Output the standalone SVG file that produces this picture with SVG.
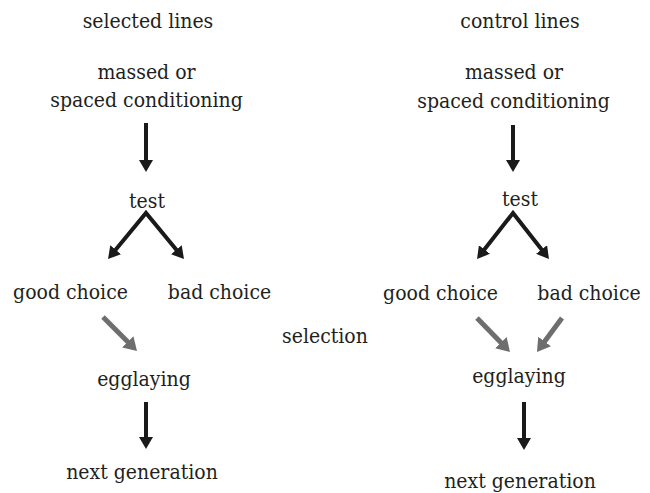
<svg xmlns="http://www.w3.org/2000/svg" width="650" height="493" viewBox="0 0 650 493">
<style>
text{font-family:"DejaVu Serif Condensed","DejaVu Serif","Liberation Serif",serif;font-stretch:condensed;font-size:21px;fill:#231f20;text-anchor:middle}
.blk{stroke:#1a1a1a;stroke-width:4;fill:none;stroke-linejoin:miter}
.gry{stroke:#6e6e6e;stroke-width:5;fill:none}
</style>
<defs>
<marker id="hb" markerUnits="userSpaceOnUse" markerWidth="12" markerHeight="14" refX="2" refY="7" orient="auto-start-reverse"><path d="M0,0 L12,7 L0,14 z" fill="#1a1a1a"/></marker>
<marker id="hg" markerUnits="userSpaceOnUse" markerWidth="13" markerHeight="16" refX="2" refY="8" orient="auto"><path d="M0,0 L13,8 L0,16 z" fill="#6e6e6e"/></marker>
</defs>
<g id="labels-left">
<g id="selected-lines"><text x="148" y="28">selected lines</text></g>
<g id="cond-left"><text x="146.5" y="79">massed or</text><text x="146.5" y="107">spaced conditioning</text></g>
<g id="test-left"><text x="147" y="208">test</text></g>
<g id="good-left"><text x="70.5" y="299">good choice</text></g>
<g id="bad-left"><text x="219.5" y="299">bad choice</text></g>
<g id="egg-left"><text x="144" y="386">egglaying</text></g>
<g id="next-left"><text x="142" y="479">next generation</text></g>
</g>
<g id="selection"><text x="325" y="343">selection</text></g>
<g id="labels-right">
<g id="control-lines"><text x="520" y="28">control lines</text></g>
<g id="cond-right"><text x="514" y="79">massed or</text><text x="513.5" y="108">spaced conditioning</text></g>
<g id="test-right"><text x="520" y="206">test</text></g>
<g id="good-right"><text x="440.5" y="300">good choice</text></g>
<g id="bad-right"><text x="589" y="300">bad choice</text></g>
<g id="egg-right"><text x="519" y="383">egglaying</text></g>
<g id="next-right"><text x="520" y="488">next generation</text></g>
</g>
<g id="connectors">
<line class="blk" x1="146" y1="123" x2="146" y2="162" marker-end="url(#hb)"/>
<line class="blk" x1="513" y1="125" x2="513" y2="162" marker-end="url(#hb)"/>
<path class="blk" d="M114.4,251.3 L146,213 L177.6,251.3" marker-start="url(#hb)" marker-end="url(#hb)"/>
<path class="blk" d="M483.2,251.1 L513,213 L542.8,251.1" marker-start="url(#hb)" marker-end="url(#hb)"/>
<line class="gry" x1="103" y1="317" x2="129.2" y2="343.2" marker-end="url(#hg)"/>
<line class="gry" x1="477" y1="318" x2="502.3" y2="344.1" marker-end="url(#hg)"/>
<line class="gry" x1="562" y1="318" x2="543.5" y2="343.1" marker-end="url(#hg)"/>
<line class="blk" x1="146" y1="402" x2="146" y2="439" marker-end="url(#hb)"/>
<line class="blk" x1="524" y1="402" x2="524" y2="440" marker-end="url(#hb)"/>
</g>
</svg>
